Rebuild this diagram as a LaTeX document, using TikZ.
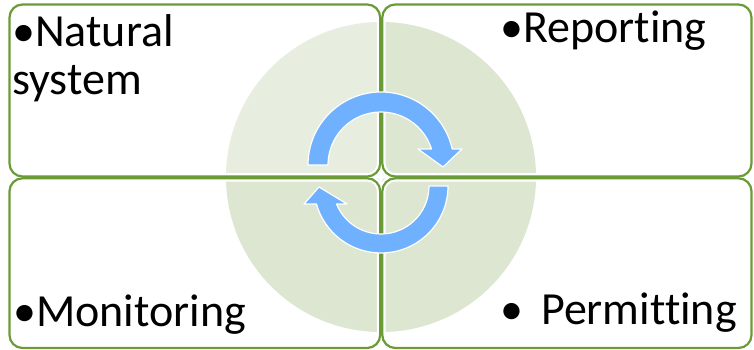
\documentclass[tikz,border=0pt]{standalone}
\usepackage{fontspec}
\setmainfont{Carlito}[Ligatures=NoCommon]
\usetikzlibrary{calc}
\definecolor{rahmengruen}{RGB}{107,155,55}
\definecolor{kreishell}{RGB}{231,237,223}
\definecolor{kreisdunkel}{RGB}{221,230,208}
\definecolor{pfeilblau}{RGB}{111,176,255}

\begin{document}
\begin{tikzpicture}[
      x=1pt, y=1pt,
      every node/.style={font=\fontsize{46}{48}\selectfont, inner sep=0pt, anchor=base west, align=left},
      feld/.style={rounded corners=13pt, line width=2.2pt, draw=rahmengruen},
      feldhalo/.style={rounded corners=13pt, line width=6.5pt, draw=white},
      pfeil/.style={fill=pfeilblau, draw=white, line width=1.2pt, line join=round}
    ]
  \useasboundingbox (0,0) rectangle (754,350);
  \fill[white] (0,0) rectangle (754,350);

  % --- Mittelpunkte ---
  \coordinate (M) at (381,173);
  \coordinate (Mo) at (381,185);
  \coordinate (Mu) at (381,164);

  % --- Kreis in vier Vierteln ---
  \fill[kreishell] (M) -- ++(90:155) arc[start angle=90, end angle=180, radius=155] -- cycle;
  \foreach \a/\b in {0/90,180/270,270/360}
    \fill[kreisdunkel] (M) -- ++(\a:155) arc[start angle=\a, end angle=\b, radius=155] -- cycle;

  % --- Felder (erst weisser Rand, dann gruen) ---
  \foreach \xa/\ya/\xb/\yb in {9.5/173.5/380.2/345.5, 382.3/173.5/751.5/345.5,
                               9.5/2/380.2/171.7, 382.3/2/751.5/171.7}
    \draw[feldhalo] (\xa,\ya) rectangle (\xb,\yb);
  \foreach \xa/\ya/\xb/\yb in {9.5/173.5/380.2/345.5, 382.3/173.5/751.5/345.5,
                               9.5/2/380.2/171.7, 382.3/2/751.5/171.7}
    \draw[feld] (\xa,\ya) rectangle (\xb,\yb);

  % --- Kreispfeile ---
  \draw[pfeil] ($(Mo)+(180:73)$) arc[start angle=180, end angle=12.7, radius=73]
    -- ($(Mo)+(81,16)$) -- ($(Mo)+(62,-2)$) -- ($(Mo)+(37,16)$)
    -- ($(Mo)+(17.6:53)$) arc[start angle=17.6, end angle=180, radius=53] -- cycle;
  \draw[pfeil] ($(Mu)+(0:67)$) arc[start angle=0, end angle=-164.4, radius=67]
    -- ($(Mu)+(-77,-18)$) -- ($(Mu)+(-62,-1)$) -- ($(Mu)+(-34,-18)$)
    -- ($(Mu)+(-158:48)$) arc[start angle=-158, end angle=0, radius=48] -- cycle;

  % Stern in der Mitte
  \fill[white, shift={(M)}] (0,9) -- (1.8,1.8) -- (9,0) -- (1.8,-1.8)
    -- (0,-9) -- (-1.8,-1.8) -- (-9,0) -- (-1.8,1.8) -- cycle;

  % --- Texte ---
  \node (natur)   at (12,255)   {•Natural\\system};
  \node (bericht) at (500,307)  {•Reporting};
  \node (monitor) at (13,23.3)  {•Monitoring};
  \node (genehm)  at (500,25)   {•\hspace{18pt}Permitting};
\end{tikzpicture}
\end{document}
